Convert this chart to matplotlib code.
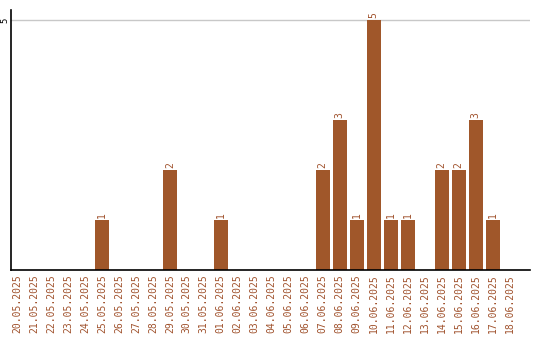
import matplotlib
matplotlib.use("Agg")
import matplotlib.pyplot as plt

# Daily counts between 20.05.2025 and 18.06.2025
dates = [
    "20.05.2025", "21.05.2025", "22.05.2025", "23.05.2025", "24.05.2025",
    "25.05.2025", "26.05.2025", "27.05.2025", "28.05.2025", "29.05.2025",
    "30.05.2025", "31.05.2025", "01.06.2025", "02.06.2025", "03.06.2025",
    "04.06.2025", "05.06.2025", "06.06.2025", "07.06.2025", "08.06.2025",
    "09.06.2025", "10.06.2025", "11.06.2025", "12.06.2025", "13.06.2025",
    "14.06.2025", "15.06.2025", "16.06.2025", "17.06.2025", "18.06.2025",
]
counts = [0, 0, 0, 0, 0, 1, 0, 0, 0, 2,
          0, 0, 1, 0, 0, 0, 0, 0, 2, 3,
          1, 5, 1, 1, 0, 2, 2, 3, 1, 0]
y_ticks = [5]

bar_color = "#A0572A"
label_color = "#A0522D"

fig = plt.figure(figsize=(5.4, 3.4), dpi=100)
ax = fig.add_axes([11 / 540, 70 / 340, 519 / 540, 260 / 340])

x = list(range(len(dates)))
ax.bar(x, counts, width=0.82, color=bar_color, zorder=2)

# value labels above non-empty bars
for xi, c in zip(x, counts):
    if c > 0:
        ax.text(xi, c + 0.04, str(c), rotation=90, ha="center", va="bottom",
                color=label_color, fontsize=7, family="DejaVu Sans Mono")

ax.set_xlim(-0.35, 30.2)
ax.set_ylim(0, 5.2)
ax.set_xticks(x)
ax.set_xticklabels(dates, rotation=90, color=label_color, fontsize=7,
                   family="DejaVu Sans Mono")
ax.set_yticks(y_ticks)
ax.set_yticklabels([str(t) for t in y_ticks], rotation=90, va="center",
                   fontsize=6.5, family="DejaVu Sans Mono")
ax.tick_params(axis="x", length=0, pad=3)
ax.tick_params(axis="y", length=0, pad=1)
ax.yaxis.grid(True, color="#c8c8c8", linewidth=1, zorder=0)

for side in ["top", "right"]:
    ax.spines[side].set_visible(False)
ax.spines["left"].set_linewidth(1.2)
ax.spines["bottom"].set_linewidth(1.2)

fig.savefig("out.png", dpi=100)
